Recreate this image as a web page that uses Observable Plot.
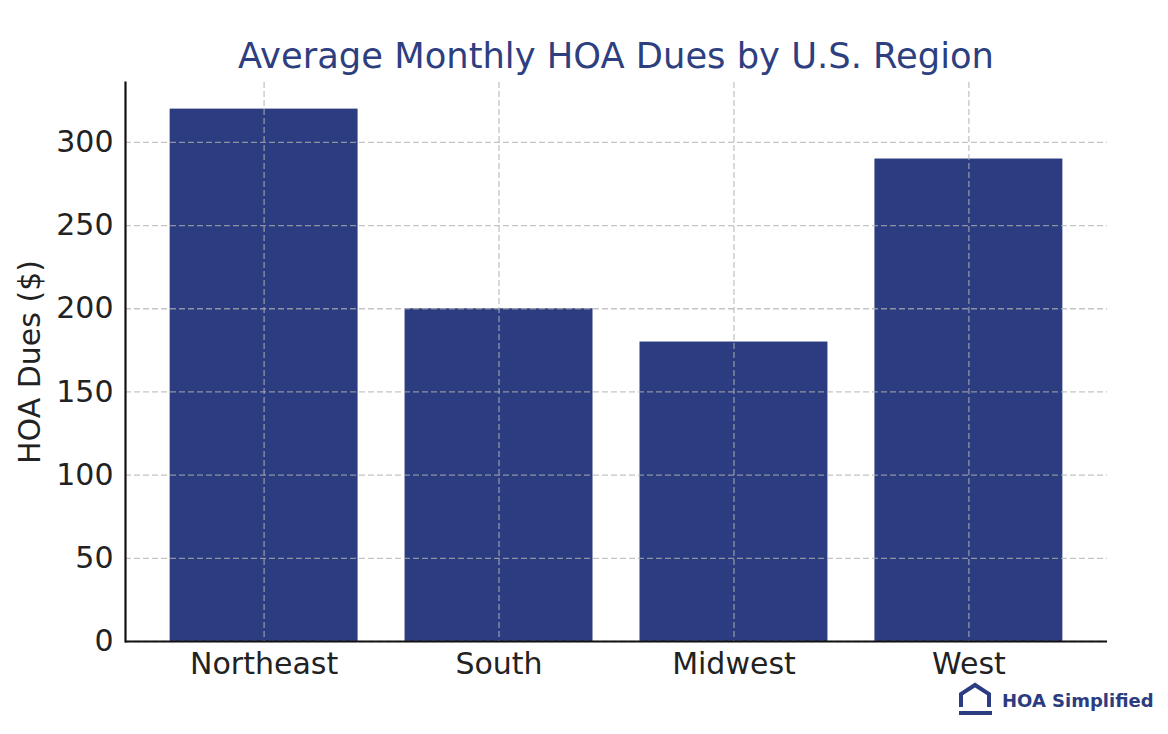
<!DOCTYPE html>
<html>
<head>
<meta charset="utf-8">
<script src="https://cdn.jsdelivr.net/npm/d3@7"></script>
<script src="https://cdn.jsdelivr.net/npm/@observablehq/plot@0.6"></script>
<style>
  html, body { margin: 0; padding: 0; background: #fff; }
  #wrap { position: relative; width: 1168px; height: 734px; overflow: hidden; font-family: "DejaVu Sans", sans-serif; }
  #title { position: absolute; left: 0; width: 1232px; top: 38px; text-align: center; font-size: 35.3px; line-height: 35px; color: #2e3f80; white-space: nowrap; }
  #chart { position: absolute; left: 0; top: 0; }
  #logo { position: absolute; left: 957px; top: 682px; display: flex; align-items: center; gap: 9px; color: #2b3d80; font-weight: 900; font-size: 18px; white-space: nowrap; }
</style>
</head>
<body>
<div id="wrap">
  <div id="chart"></div>
  <div id="title">Average Monthly HOA Dues by U.S. Region</div>
  <div id="logo">
    <svg width="36" height="36" viewBox="0 0 36 36" aria-hidden="true">
      <path d="M4 25 V12 L18 3 L32 12 V25" fill="none" stroke="#2b3d80" stroke-width="4" stroke-linejoin="miter"/>
      <rect x="2" y="29" width="33" height="4" fill="#2b3d80"/>
    </svg>
    <span>HOA&nbsp;Simplified</span>
  </div>
</div>
<script>
const regions = ["Northeast", "South", "Midwest", "West"];
const dues = [320, 200, 180, 290];
const yTicks = [0, 50, 100, 150, 200, 250, 300];

const data = regions.map((r, i) => ({region: r, dues: dues[i]}));
const gridStyle = {stroke: "#b0b0b0", strokeOpacity: 0.75, strokeWidth: 1.3, strokeDasharray: "6,3"};

const chart = Plot.plot({
  width: 1168,
  height: 734,
  marginLeft: 125,
  marginRight: 61,
  marginTop: 82,
  marginBottom: 93,
  style: {fontFamily: "DejaVu Sans, sans-serif", color: "#222", background: "transparent"},
  x: {type: "band", domain: regions, paddingInner: 0.2, paddingOuter: 0.19, align: 0.5, round: false},
  y: {domain: [0, 336]},
  marks: [
    Plot.barY(data, {x: "region", y: "dues", fill: "#2b3d80"}),
    Plot.ruleY(yTicks, {y: d => d, ...gridStyle}),
    Plot.ruleX(regions, {x: d => d, ...gridStyle}),
    Plot.ruleY([0], {stroke: "#111", strokeWidth: 2.2}),
    Plot.frame({anchor: "left", stroke: "#111", strokeWidth: 2.2}),
    Plot.axisX({tickSize: 0, tickPadding: 11, fontSize: 30, label: null}),
    Plot.axisY({ticks: yTicks, tickSize: 0, tickPadding: 12, fontSize: 30, label: "HOA Dues ($)", labelAnchor: "center", labelOffset: 107, labelArrow: "none"})
  ]
});
document.getElementById("chart").appendChild(chart);
</script>
</body>
</html>
